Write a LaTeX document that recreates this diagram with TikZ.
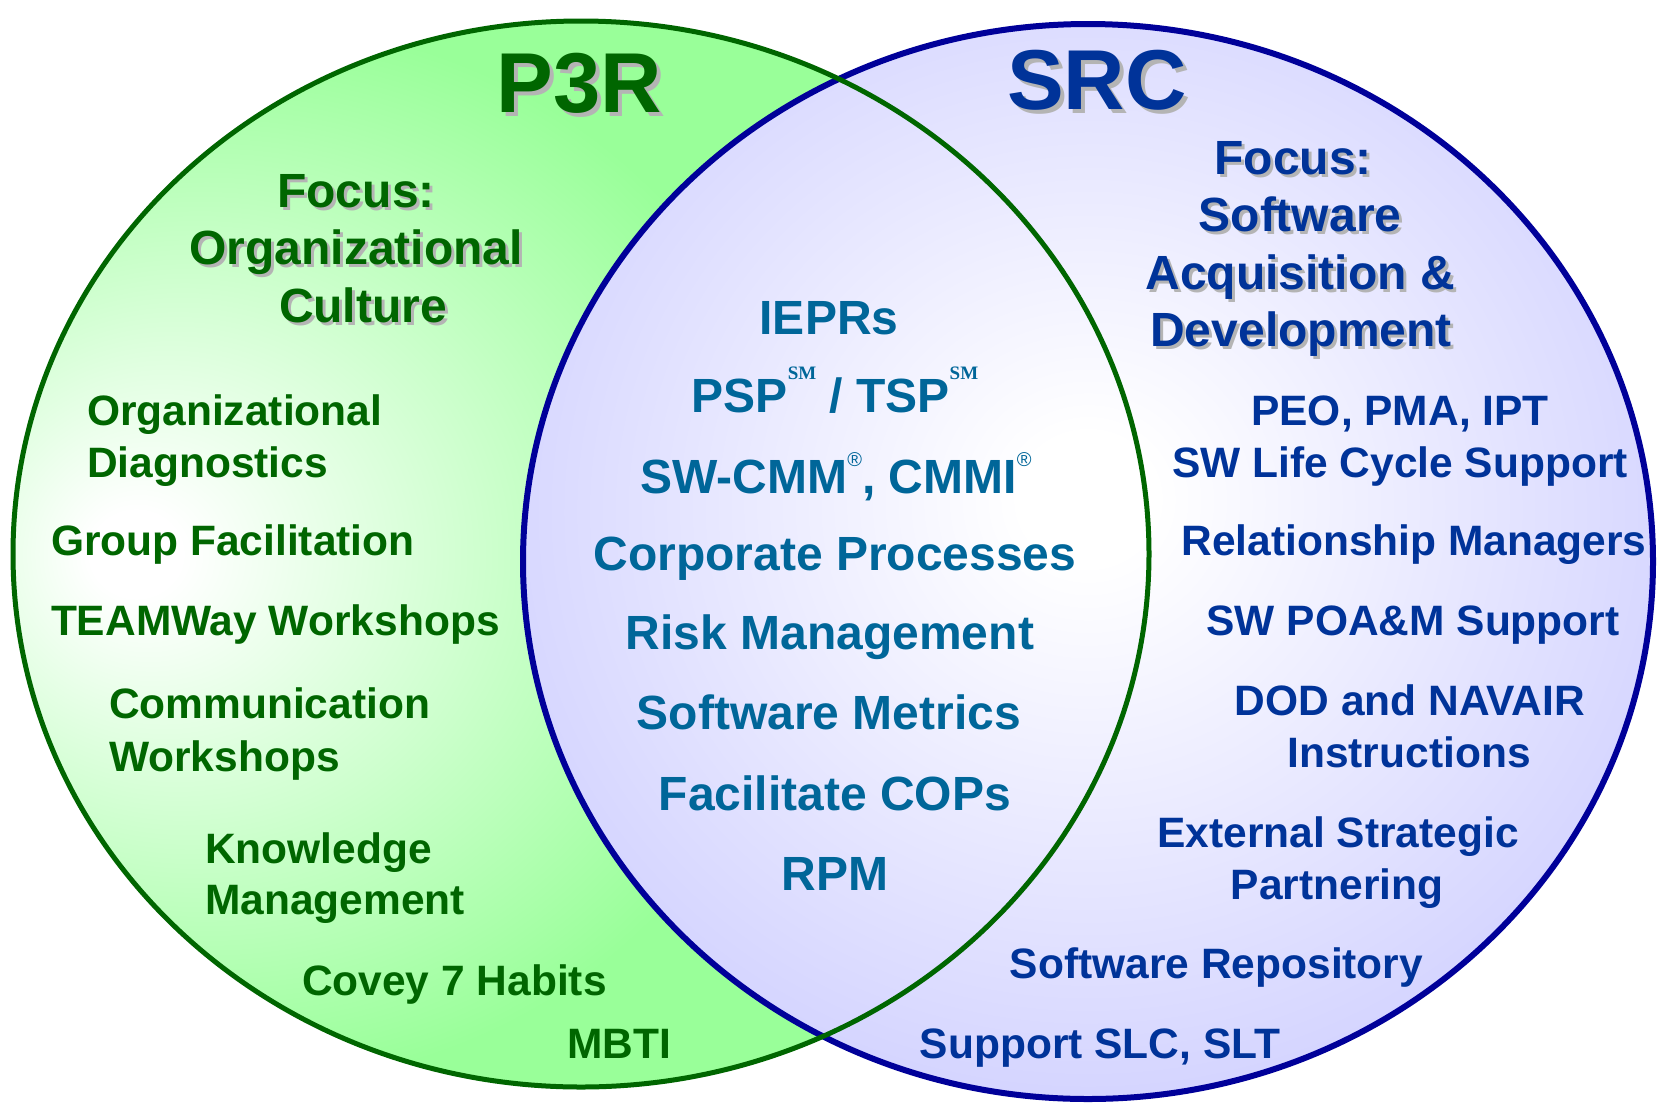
\documentclass[tikz,border=0pt]{standalone}
\usepackage{fontspec}
\setmainfont{Liberation Sans}
\newfontfamily\smserif{Liberation Serif}
\definecolor{gfill}{HTML}{99FF99}
\definecolor{bfill}{HTML}{CCCCFF}
\definecolor{gline}{HTML}{006600}
\definecolor{bline}{HTML}{000099}
\definecolor{gtext}{HTML}{006600}
\definecolor{ctext}{HTML}{006699}
\definecolor{btext}{HTML}{003399}
\definecolor{shadowc}{HTML}{B4B4B4}
\pgfdeclareradialshading{greenshade}{\pgfpoint{-20bp}{0bp}}{color(0bp)=(white); color(2bp)=(white); color(25bp)=(gfill); color(100bp)=(gfill)}
\pgfdeclareradialshading{blueshade}{\pgfpoint{0bp}{3bp}}{color(0bp)=(white); color(3bp)=(white); color(32bp)=(bfill); color(100bp)=(bfill)}
\newcommand\shd[3]{\makebox[0pt][l]{\kern#1\raisebox{-#1}{\textcolor{shadowc}{#3}}}\textcolor{#2}{#3}}
\newcommand\smk{\raisebox{33pt}{\smserif\bfseries\fontsize{19}{19}\selectfont SM}}
\newcommand\reg{\raisebox{27pt}{\fontsize{20}{20}\selectfont\mdseries ®}}
\begin{document}
\begin{tikzpicture}[x=1pt,y=-1pt,
  every node/.style={inner sep=0pt, outer sep=0pt},
  titlefont/.style={font=\bfseries\fontsize{85}{90}\selectfont, anchor=base},
  focusfont/.style={font=\bfseries\fontsize{48}{56}\selectfont, anchor=base},
  gl/.style={font=\bfseries\fontsize{42.5}{50}\selectfont, text=gtext, anchor=base west},
  cl/.style={font=\bfseries\fontsize{48}{56}\selectfont, text=ctext, anchor=base},
  bl/.style={font=\bfseries\fontsize{42.5}{50}\selectfont, text=btext, anchor=base},
]
\useasboundingbox (0,0) rectangle (1658,1104);
% circles
\shade[shading=greenshade] (581,554) ellipse [x radius=568, y radius=533];
\shade[shading=blueshade] (1088,561.5) ellipse [x radius=565, y radius=537.5];
\draw[bline, line width=6pt] (1088,561.5) ellipse [x radius=565, y radius=537.5];
\draw[gline, line width=5pt] (581,554) ellipse [x radius=568, y radius=533];
% titles
\node[titlefont] (p3r) at (579,112) {\shd{4pt}{gtext}{P3R}};
\node[titlefont] (src) at (1097,109) {\shd{4pt}{btext}{SRC}};
% left focus
\node[focusfont] (lf1) at (356,207) {\shd{3pt}{gtext}{Focus:}};
\node[focusfont] (lf2) at (356,264) {\shd{3pt}{gtext}{Organizational}};
\node[focusfont] (lf3) at (363,322.5) {\shd{3pt}{gtext}{Culture}};
% right focus
\node[focusfont] (rf1) at (1293,174.5) {\shd{3pt}{btext}{Focus:}};
\node[focusfont] (rf2) at (1300,231.6) {\shd{3pt}{btext}{Software}};
\node[focusfont] (rf3) at (1300,289.7) {\shd{3pt}{btext}{Acquisition \&}};
\node[focusfont] (rf4) at (1301,346.8) {\shd{3pt}{btext}{Development}};
% left list
\node[gl] (l1a) at (87,425) {Organizational};
\node[gl] (l1b) at (87,477) {Diagnostics};
\node[gl] (l2) at (51,555) {Group Facilitation};
\node[gl] (l3) at (51,635.5) {TEAMWay Workshops};
\node[gl] (l4a) at (109,718) {Communication};
\node[gl] (l4b) at (109,771) {Workshops};
\node[gl] (l5a) at (205,863) {Knowledge};
\node[gl] (l5b) at (205,914.6) {Management};
\node[gl] (l6) at (302,995) {Covey 7 Habits};
\node[gl] (l7) at (567,1058.5) {MBTI};
% center list
\node[cl] (c1) at (829,334) {IEPRs};
\node[cl] (c2) at (835,412) {PSP\smk{} / TSP\smk};
\node[cl] (c3) at (836,493) {SW-CMM\reg, CMMI\reg};
\node[cl] (c4) at (835,570) {Corporate Processes};
\node[cl] (c5) at (830,649) {Risk Management};
\node[cl] (c6) at (829,729.6) {Software Metrics};
\node[cl] (c7) at (835,810) {Facilitate COPs};
\node[cl] (c8) at (835,890) {RPM};
% right list
\node[bl] (r1a) at (1400,425) {PEO, PMA, IPT};
\node[bl] (r1b) at (1400,477) {SW Life Cycle Support};
\node[bl] (r2) at (1414,555) {Relationship Managers};
\node[bl] (r3) at (1413,635.5) {SW POA\&M Support};
\node[bl] (r4a) at (1410,715) {DOD and NAVAIR};
\node[bl] (r4b) at (1409,767.7) {Instructions};
\node[bl] (r5a) at (1338,847) {External Strategic};
\node[bl] (r5b) at (1337,899) {Partnering};
\node[bl] (r6) at (1216.5,978) {Software Repository};
\node[bl] (r7) at (1100,1058.5) {Support SLC, SLT};
\end{tikzpicture}
\end{document}
